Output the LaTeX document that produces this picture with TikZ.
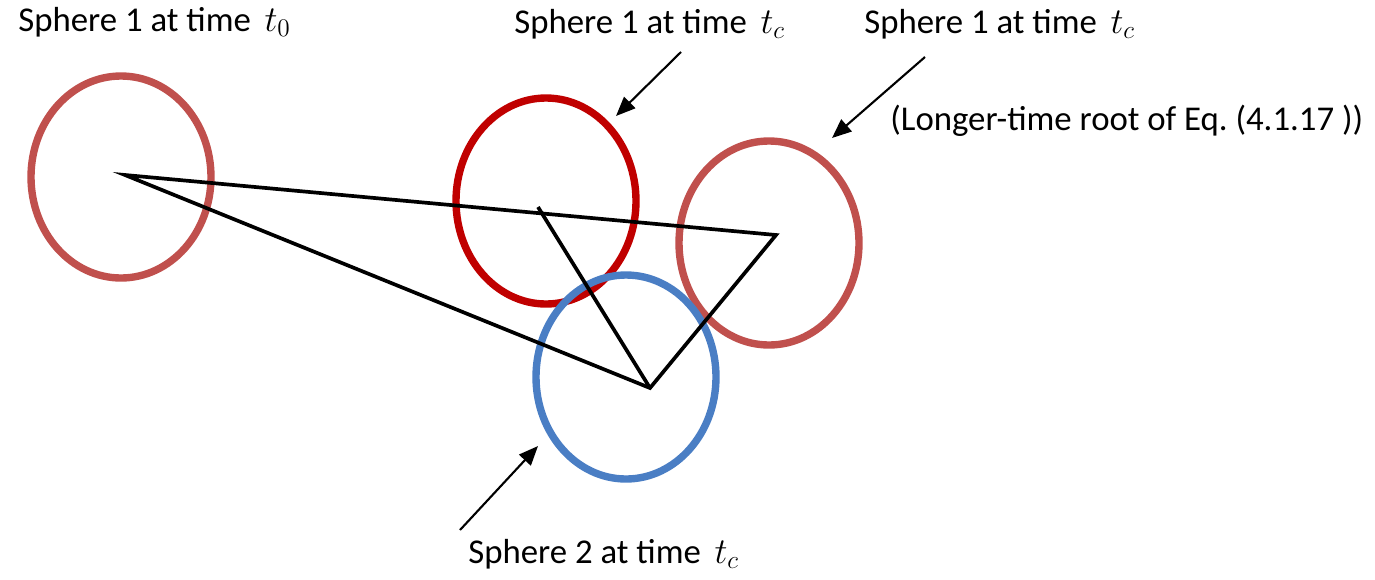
\documentclass[tikz,border=0pt]{standalone}
\usepackage{fontspec}
\setmainfont{Carlito}
\usetikzlibrary{arrows.meta}
\definecolor{rose}{HTML}{C0504D}
\definecolor{darkred}{HTML}{C00000}
\definecolor{sblue}{HTML}{4A7EC4}
\frenchspacing
\tikzset{
  sphere/.style={line width=4.2pt},
  traj/.style={line width=2.1pt, line join=miter},
  pointer/.style={line width=1.2pt, -{Triangle[length=11pt,width=9pt]}},
  lbl/.style={font=\fontsize{19.8}{22}\selectfont, inner sep=0pt, anchor=west}
}
\begin{document}
\begin{tikzpicture}[x=0.02cm,y=-0.02cm]
\useasboundingbox (0,0) rectangle (1375,579);
% sphere centers
\coordinate (s1) at (121,177);
\coordinate (s2) at (546,201);
\coordinate (s3) at (769,243);
\coordinate (s4) at (626,377);
% trajectory points
\coordinate (p0) at (125,175);
\coordinate (pc) at (538,207);
\coordinate (pl) at (776,235);
\coordinate (q) at (650,388);
% spheres
\draw[sphere, rose] (s1) ellipse [x radius=90, y radius=101];
\draw[sphere, darkred] (s2) ellipse [x radius=90, y radius=103];
\draw[sphere, rose] (s3) ellipse [x radius=90, y radius=102];
\draw[sphere, sblue] (s4) ellipse [x radius=90, y radius=102];
% trajectories
\draw[traj] (p0) -- (pl) -- (q) -- cycle;
\draw[traj] (pc) -- (q);
% labels
\node[lbl] (l1) at (18,22) {Sphere 1 at time \,$t_0$};
\node[lbl] (l2) at (514,24) {Sphere 1 at time \,$t_c$};
\node[lbl] (l3) at (864,24) {Sphere 1 at time \,$t_c$};
\node[lbl] (l4) at (890,121) {(Longer-time root of Eq. (4.1.17 ))};
\node[lbl] (l5) at (468,554) {Sphere 2 at time \,$t_c$};
% arrows
\coordinate (a1s) at (681,52);
\coordinate (a1e) at (616,116);
\coordinate (a2s) at (925,57);
\coordinate (a2e) at (832,138);
\coordinate (a3s) at (460,530);
\coordinate (a3e) at (538,446);
\draw[pointer] (a1s) -- (a1e);
\draw[pointer] (a2s) -- (a2e);
\draw[pointer] (a3s) -- (a3e);
\end{tikzpicture}
\end{document}
